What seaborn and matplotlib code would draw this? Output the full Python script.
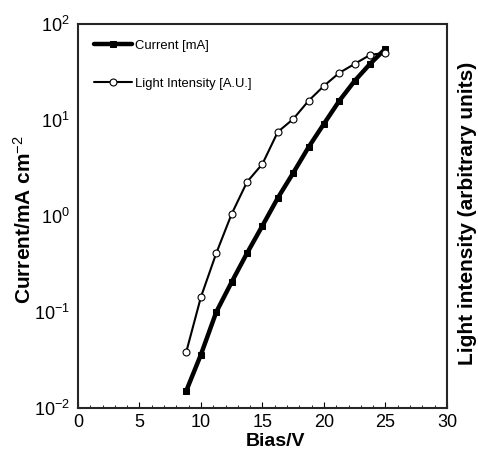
import matplotlib
matplotlib.use("Agg")
import matplotlib.pyplot as plt
from matplotlib.ticker import MultipleLocator, LogLocator, NullLocator
import seaborn as sns
import pandas as pd

# values
bias = [8.8, 10.0, 11.25, 12.5, 13.75, 15.0, 16.25, 17.5, 18.75, 20.0, 21.25, 22.5, 23.75, 25.0]
current = [0.015, 0.036, 0.10, 0.205, 0.41, 0.79, 1.54, 2.8, 5.2, 9.1, 15.8, 25.5, 38.3, 55.0]
light = [0.038, 0.143, 0.41, 1.05, 2.26, 3.48, 7.5, 10.2, 15.8, 22.6, 30.9, 38.3, 47.5, 50.0]

df = pd.DataFrame({"bias": bias, "current": current, "light": light})

sns.set_style("ticks")
plt.rcParams['font.family'] = ['Liberation Sans', 'DejaVu Sans']
plt.rcParams['mathtext.fontset'] = 'custom'
plt.rcParams['mathtext.rm'] = 'Liberation Sans'
plt.rcParams['mathtext.it'] = 'Liberation Sans:italic'
plt.rcParams['mathtext.bf'] = 'Liberation Sans:bold'
plt.rcParams['text.color'] = 'black'
plt.rcParams['axes.labelcolor'] = 'black'
plt.rcParams['xtick.color'] = 'black'
plt.rcParams['ytick.color'] = 'black'

fig = plt.figure(figsize=(4.78, 4.53), dpi=100)
ax = fig.add_axes([0.163, 0.0993, 0.772, 0.848])

sns.lineplot(data=df, x="bias", y="current", ax=ax, color="black", lw=3.2,
             marker="s", markersize=4, markeredgecolor="black", label="Current [mA]")
sns.lineplot(data=df, x="bias", y="light", ax=ax, color="black", lw=1.5,
             marker="o", markersize=5, markerfacecolor="white", markeredgecolor="black",
             markeredgewidth=0.8, label="Light Intensity [A.U.]")

ax.set_yscale("log")
ax.set_xlim(0, 30)
ax.set_ylim(1e-2, 1e2)
ax.xaxis.set_major_locator(MultipleLocator(5))
ax.xaxis.set_minor_locator(MultipleLocator(1))
ax.yaxis.set_major_locator(LogLocator(base=10, numticks=10))
ax.yaxis.set_minor_locator(NullLocator())
ax.tick_params(axis="x", which="major", direction="in", length=4, width=0.8, labelsize=13, pad=4)
ax.tick_params(axis="x", which="minor", direction="in", length=2.5, width=0.6)
ax.tick_params(axis="y", which="major", length=0, labelsize=13, pad=6)
for s in ax.spines.values():
    s.set_linewidth(1.5)

ax.set_xlabel("Bias/V", fontsize=14, fontweight="bold")
ax.xaxis.set_label_coords(0.535, -0.065)
ax.set_ylabel("Current/mA cm$^{-2}$", fontsize=15, fontweight="bold")
ax.yaxis.set_label_coords(-0.117, 0.49)
fig.text(0.978, 0.53, "Light intensity (arbitrary units)", rotation=90, fontsize=15,
         fontweight="bold", ha="center", va="center")

ax.legend(loc="upper left", frameon=False, fontsize=9.4, handlelength=2.95,
          labelspacing=1.97, borderaxespad=0.8, handletextpad=0.2,
          bbox_to_anchor=(0.0, 1.0))

fig.savefig("out.png", dpi=100)
